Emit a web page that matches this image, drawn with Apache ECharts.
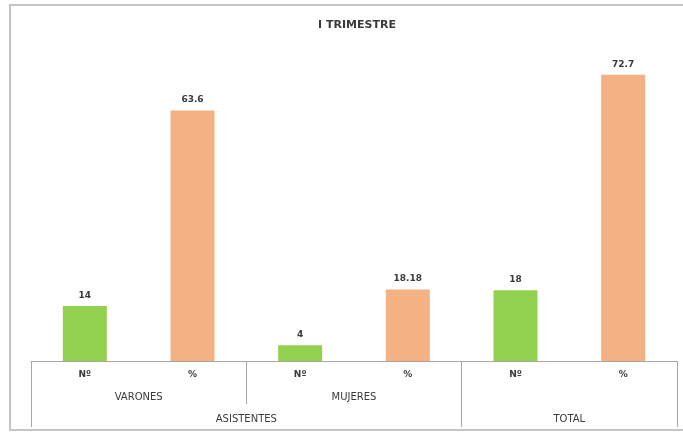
<!DOCTYPE html>
<html>
<head>
<meta charset="utf-8">
<script src="https://cdn.jsdelivr.net/npm/echarts@6/dist/echarts.min.js"></script>
<style>
  html, body { margin: 0; padding: 0; background: #fff; }
  #main { width: 683px; height: 432px; }
</style>
</head>
<body>
<div id="main"></div>
<script>
// datos del gráfico
var subCats = ['Nº', '%', 'Nº', '%', 'Nº', '%'];
var groupCats = ['VARONES', 'MUJERES', ''];
var topCats = ['', '', 'ASISTENTES', '', '', 'TOTAL', ''];
var values = [14, 63.6, 4, 18.18, 18, 72.7];
var labels = ['14', '63.6', '4', '18.18', '18', '72.7'];
var colors = ['#92d050', '#f4b183'];

var chart = echarts.init(document.getElementById('main'));
var font = '"DejaVu Sans", sans-serif';

chart.setOption({
  backgroundColor: '#fff',
  animation: false,
  title: {
    text: 'I TRIMESTRE',
    left: 352,
    textAlign: 'center',
    top: 15,
    textStyle: { fontFamily: font, fontSize: 11, fontWeight: 'bold', color: '#3a3a3a' }
  },
  // marco del área del gráfico (se sale por la derecha)
  graphic: [
    {
      type: 'rect',
      shape: { x: 10, y: 5, width: 760, height: 425 },
      style: { fill: 'none', stroke: '#c4c4c4', lineWidth: 2 },
      silent: true,
      z: -1
    }
  ],
  grid: { left: 31, right: 6, top: 46, bottom: 71 },
  xAxis: [
    {
      type: 'category',
      data: subCats,
      axisLine: { show: true, lineStyle: { color: '#a6a6a6', width: 1 } },
      axisTick: { show: false },
      axisLabel: { margin: 9, fontFamily: font, fontSize: 9, fontWeight: 'bold', color: '#3a3a3a' }
    },
    {
      type: 'category',
      data: groupCats,
      position: 'bottom',
      axisLine: { show: false },
      axisTick: { show: true, length: 43, lineStyle: { color: '#a6a6a6' } },
      axisLabel: { margin: 31, fontFamily: font, fontSize: 10, color: '#3a3a3a' }
    },
    {
      type: 'category',
      data: topCats,
      position: 'bottom',
      boundaryGap: false,
      axisLine: { show: false },
      axisTick: {
        show: true,
        length: 66,
        interval: function (index) { return index === 0 || index === 4 || index === 6; },
        lineStyle: { color: '#a6a6a6' }
      },
      axisLabel: { margin: 53, interval: 0, fontFamily: font, fontSize: 10, color: '#3a3a3a' }
    }
  ],
  yAxis: {
    type: 'value',
    min: 0,
    max: 80,
    show: false,
    splitLine: { show: false }
  },
  series: [
    {
      type: 'bar',
      xAxisIndex: 0,
      barWidth: 44,
      data: values.map(function (v, i) {
        return { value: v, itemStyle: { color: colors[i % 2] } };
      }),
      label: {
        show: true,
        position: 'top',
        distance: 6,
        fontFamily: font,
        fontSize: 9,
        fontWeight: 'bold',
        color: '#3a3a3a',
        formatter: function (p) { return labels[p.dataIndex]; }
      }
    }
  ]
});
</script>
</body>
</html>
